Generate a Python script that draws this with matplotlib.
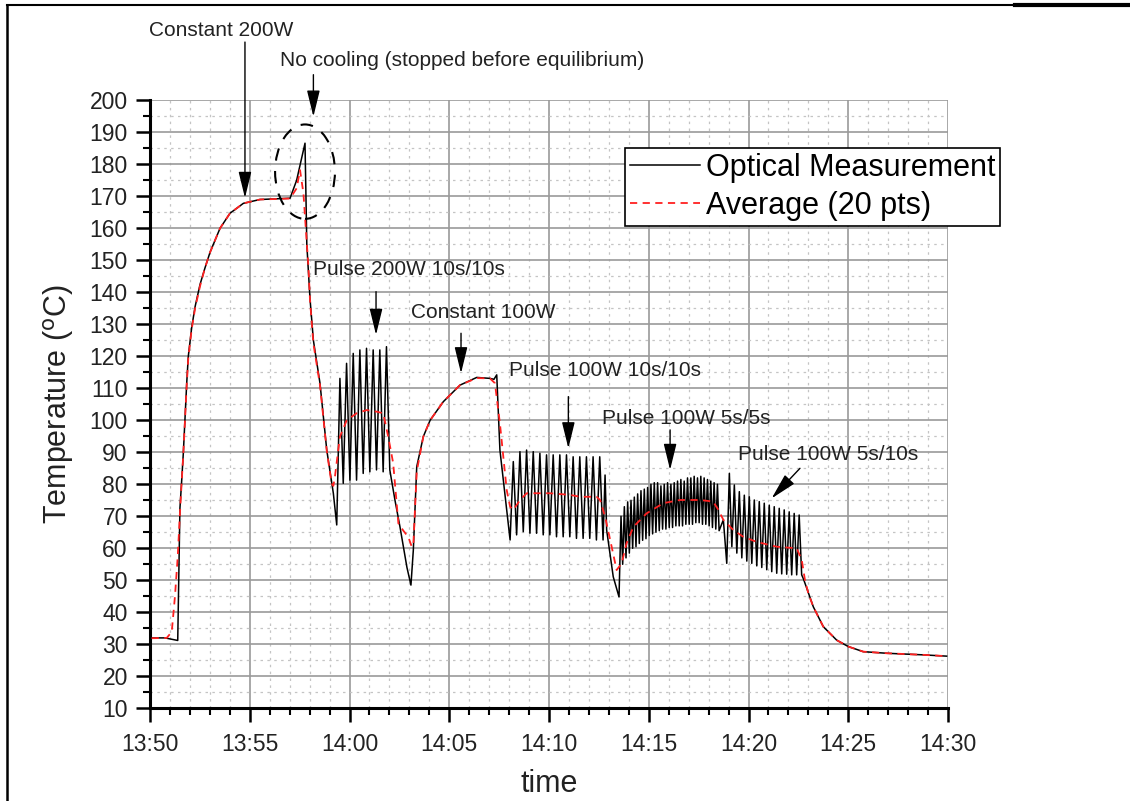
import numpy as np
import matplotlib
matplotlib.use("Agg")
import matplotlib.pyplot as plt
from matplotlib.patches import Ellipse
from matplotlib.lines import Line2D
from matplotlib.ticker import MultipleLocator

plt.rcParams['font.family'] = ['Liberation Sans', 'DejaVu Sans']

# ---------------- data (time in minutes after 13:50, temperature in degC) ----------------
tick_labels = ["13:50", "13:55", "14:00", "14:05", "14:10", "14:15", "14:20", "14:25", "14:30"]

# Optical measurement: smooth parts as vertices
warmup_t = [0.00, 0.75, 1.39, 1.50, 1.59, 1.67, 1.75, 1.84, 1.92, 2.09, 2.26, 2.51, 2.75, 3.01, 3.51,
            4.01, 4.68, 5.51, 7.02, 7.35, 7.77, 7.86, 8.02, 8.19, 8.52, 8.86, 9.19, 9.36]
warmup_v = [32.0, 32.0, 31.2, 72.5, 81.3, 89.7, 100.0, 111.6, 120.0, 129.0, 135.5, 142.5, 147.5, 152.5, 160.0,
            164.7, 167.8, 169.0, 169.4, 175.0, 186.6, 155.0, 138.0, 125.0, 111.6, 90.7, 77.2, 67.3]

# Pulse 200W 10s/10s (period 20 s)
p200_start, p200_period = 9.52, 1 / 3
p200_peaks = [113.1, 117.8, 120.9, 122.0, 122.5, 122.0, 122.0, 123.0]
p200_troughs = [80.3, 81.3, 81.3, 83.4, 83.9, 84.5, 83.9, 84.5]

const100_t = [12.28, 12.53, 12.70, 12.88, 13.08, 13.20, 13.37, 13.70, 14.04, 14.70, 15.54, 16.38,
              17.04, 17.24, 17.38, 17.54, 17.88, 18.05]
const100_v = [75.0, 66.7, 60.5, 54.0, 48.5, 59.5, 85.5, 94.9, 100.0, 105.8, 111.0, 113.4,
              113.1, 112.8, 114.2, 90.7, 72.0, 62.6]

# Pulse 100W 10s/10s (period 20 s)
p100a_start, p100a_period = 18.21, 1 / 3
p100a_peaks = [87.1, 90.2, 90.7, 90.2, 89.7, 89.2, 89.2, 89.2, 89.2, 88.6, 88.6, 88.6, 88.6, 88.6]
p100a_troughs = [64.2, 65.2, 64.7, 64.7, 64.2, 64.2, 63.6, 63.6, 63.6, 63.1, 63.1, 63.1, 62.6, 62.6]

gap1_t = [22.81, 22.89, 23.22, 23.51]
gap1_v = [82.9, 65.7, 51.1, 44.8]

# Pulse 100W 5s/5s (period 10 s)
p100b_start, p100b_period = 23.61, 1 / 6
p100b_peaks = [70.0, 73.0, 74.5, 75.0, 76.0, 77.0, 78.0, 78.5, 79.0, 80.0, 80.5, 80.5, 79.5, 80.0, 80.5,
               80.0, 80.5, 81.0, 81.5, 81.0, 82.0, 82.0, 82.5, 82.0, 82.5, 82.0, 81.5, 81.0, 80.5, 80.0]
p100b_troughs = [55.0, 57.0, 58.5, 60.0, 60.5, 61.5, 62.5, 63.0, 64.0, 64.5, 65.0, 65.5, 66.0, 66.0, 66.5,
                 66.5, 67.0, 67.0, 67.0, 67.5, 67.5, 67.5, 68.0, 68.0, 67.5, 67.5, 67.0, 66.5, 66.0, 65.5]

gap2_t = [28.74, 28.91]
gap2_v = [68.9, 55.3]

# Pulse 100W 5s/10s (period 15 s)
p100c_start, p100c_period = 29.04, 0.25
p100c_peaks = [83.4, 79.8, 77.7, 76.6, 76.1, 75.1, 74.6, 74.1, 73.5, 73.0, 72.5, 72.0, 71.4, 70.9, 70.4]
p100c_troughs = [60.5, 58.5, 57.0, 56.0, 55.3, 54.5, 54.0, 53.3, 52.7, 52.2, 52.0, 51.9, 51.7, 51.7, 51.7]

cool_t = [32.75, 33.25, 33.75, 34.42, 35.00, 35.75, 36.93, 38.76, 39.93]
cool_v = [50.5, 41.7, 35.5, 31.3, 29.3, 27.7, 27.2, 26.7, 26.3]

# Average (20 pts)
avg_t = [0.08, 0.84, 1.09, 1.25, 1.39, 1.50, 1.59, 1.67, 1.75, 1.84, 1.92, 2.09, 2.26, 2.51, 2.75, 3.01, 3.51,
         4.01, 4.68, 5.51, 7.02, 7.35, 7.52, 7.69, 7.77, 7.94, 8.02, 8.19, 8.52, 8.86, 9.10, 9.19, 9.27,
         9.52, 9.86, 10.36, 10.86, 11.36, 11.69, 11.94, 12.19, 12.45, 12.70, 12.95, 13.12, 13.20, 13.37,
         13.70, 14.04, 14.70, 15.54, 16.38, 17.04, 17.29, 17.54, 17.88, 18.05, 18.21, 18.55, 18.88,
         20.05, 21.05, 21.55, 22.38, 22.56, 22.81, 23.14, 23.39, 23.64, 23.89, 24.23, 24.89, 25.73,
         26.57, 27.57, 28.23, 28.49, 28.74, 29.24, 29.74, 30.41, 31.41, 32.42, 32.67, 32.83, 33.00,
         33.25, 33.75, 34.42, 35.00, 35.75, 36.93, 38.76, 39.93]
avg_v = [31.9, 32.0, 33.9, 44.9, 57.4, 70.9, 81.0, 89.5, 99.5, 111.0, 119.5, 128.5, 135.0, 142.0, 147.5, 152.5, 160.0,
         164.7, 167.8, 169.0, 169.3, 172.5, 178.2, 171.0, 163.6, 148.0, 137.6, 124.0, 111.0, 90.5, 80.3, 79.5, 82.4,
         94.9, 100.0, 102.2, 103.2, 102.7, 102.2, 94.9, 86.6, 67.8, 65.5, 63.5, 60.5, 61.0, 84.0,
         94.9, 100.0, 105.8, 111.0, 113.2, 113.1, 111.6, 99.0, 78.2, 73.0, 72.0, 75.1, 77.2,
         77.2, 76.7, 76.1, 76.1, 75.1, 69.9, 60.5, 53.2, 55.3, 61.6, 66.7, 70.9, 74.1,
         75.1, 75.1, 74.6, 72.0, 68.9, 65.7, 63.6, 62.0, 60.5, 60.0, 56.3, 50.1, 45.9,
         41.7, 35.5, 31.3, 29.3, 27.7, 27.2, 26.7, 26.3]


def pulse_series(start, period, peaks, troughs):
    t, v = [], []
    for i, (pk, tr) in enumerate(zip(peaks, troughs)):
        t += [start + i * period, start + (i + 0.5) * period]
        v += [pk, tr]
    return t, v


meas_t, meas_v = list(warmup_t), list(warmup_v)
for seg in [pulse_series(p200_start, p200_period, p200_peaks, p200_troughs),
            (const100_t, const100_v),
            pulse_series(p100a_start, p100a_period, p100a_peaks, p100a_troughs),
            (gap1_t, gap1_v),
            pulse_series(p100b_start, p100b_period, p100b_peaks, p100b_troughs),
            (gap2_t, gap2_v),
            pulse_series(p100c_start, p100c_period, p100c_peaks, p100c_troughs),
            (cool_t, cool_v)]:
    meas_t += list(seg[0])
    meas_v += list(seg[1])

# ---------------- figure ----------------
W, H = 1130, 801
fig = plt.figure(figsize=(W / 100, H / 100), dpi=100)
ax = fig.add_axes([150 / W, 1 - 708.3 / H, (948 - 150) / W, (708.3 - 100.3) / H])

ax.set_xlim(0, 40)
ax.set_ylim(10, 200)
ax.xaxis.set_major_locator(MultipleLocator(5))
ax.xaxis.set_minor_locator(MultipleLocator(1))
ax.yaxis.set_major_locator(MultipleLocator(10))
ax.yaxis.set_minor_locator(MultipleLocator(5))
ax.set_xticks(np.arange(0, 41, 5))
ax.set_xticklabels(tick_labels)

ax.grid(which='major', color='#9a9a9a', lw=1.2, ls='-')
ax.grid(which='minor', color='#c4c4c4', lw=0.9, ls=(0, (2, 3.5)))
ax.set_axisbelow(True)

for s in ['top', 'right']:
    ax.spines[s].set_visible(False)
for s in ['left', 'bottom']:
    ax.spines[s].set_linewidth(2.2)

ax.tick_params(which='major', direction='out', length=10, width=1.8, labelsize=16.5, pad=6, colors='k')
ax.tick_params(which='minor', direction='out', length=5, width=1.5)
ax.tick_params(axis='x', which='major', pad=8)
for lab in ax.get_xticklabels() + ax.get_yticklabels():
    lab.set_color('#222222')

ax.plot(meas_t, meas_v, color='black', lw=1.1, label='Optical Measurement', zorder=3)
ax.plot(avg_t, avg_v, color='#ff2020', lw=1.3, ls=(0, (4, 3)), label='Average (20 pts)', zorder=4)

ax.set_xlabel('time', fontsize=22, color='#222222', labelpad=9)
ax.set_ylabel('Temperature ($^{\\mathrm{o}}$C)', fontsize=22, color='#222222', labelpad=10)

leg = fig.legend(loc='upper left', bbox_to_anchor=(625 / W, 1 - 148 / H), fontsize=22,
                 frameon=True, fancybox=False, edgecolor='black', framealpha=1,
                 handlelength=2.3, handletextpad=0.2, borderpad=0.15, labelspacing=0.28,
                 borderaxespad=0)
leg.get_frame().set_linewidth(1.2)

# dashed ellipse
ax.add_patch(Ellipse((7.77, 177.7), 3.0, 29.5, fill=False, ec='black', lw=1.5,
                     ls=(0, (6, 5)), zorder=5))

arrow = dict(arrowstyle='-|>,head_length=0.9,head_width=0.22', color='black', lw=1.0,
             shrinkA=0, shrinkB=0, mutation_scale=18)
txt = dict(fontsize=15, color='#222222', ha='left', va='center')

ann = [
    ("Constant 200W", (-0.05, 221.7), (4.76, 218.2), (4.76, 169.5)),
    ("No cooling (stopped before equilibrium)", (6.52, 212.3), (8.19, 208.0), (8.19, 194.9)),
    ("Pulse 200W 10s/10s", (8.17, 147.0), (11.33, 140.2), (11.33, 126.7)),
    ("Constant 100W", (13.08, 133.8), (15.59, 127.2), (15.59, 114.7)),
    ("Pulse 100W 10s/10s", (18.0, 115.7), (20.97, 107.4), (20.97, 91.25)),
    ("Pulse 100W 5s/5s", (22.66, 100.7), (26.07, 97.0), (26.07, 84.5)),
    ("Pulse 100W 5s/10s", (29.47, 89.2), (32.58, 85.0), (31.16, 75.6)),
]
for text, tpos, a0, a1 in ann:
    ax.text(tpos[0], tpos[1], text, clip_on=False, zorder=6, **txt)
    ax.annotate('', xy=a1, xytext=a0, arrowprops=arrow, annotation_clip=False, zorder=6)

# outer frame lines
fig.add_artist(Line2D([7 / W, 7 / W], [0, 1 - 5 / H], color='black', lw=1.8, transform=fig.transFigure))
fig.add_artist(Line2D([7 / W, 1015 / W], [1 - 5 / H, 1 - 5 / H], color='black', lw=1.5, transform=fig.transFigure))
fig.add_artist(Line2D([1015 / W, 1], [1 - 5 / H, 1 - 5 / H], color='black', lw=3, transform=fig.transFigure))

fig.savefig('out.png', dpi=100)
